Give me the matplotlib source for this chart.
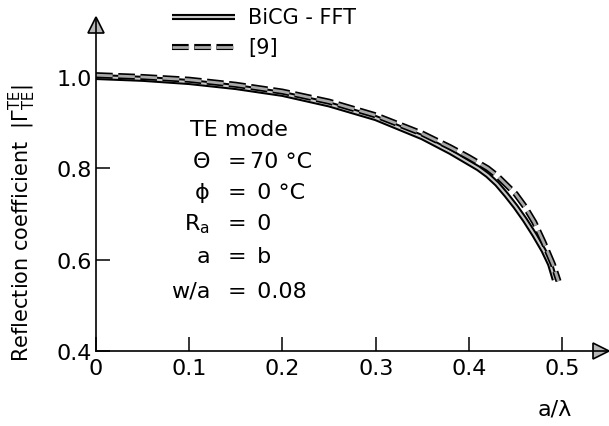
import matplotlib
matplotlib.use('Agg')
import matplotlib.pyplot as plt
import matplotlib.patheffects as pe
from matplotlib.lines import Line2D
from matplotlib import transforms

plt.rcParams['font.family'] = 'DejaVu Sans'
plt.rcParams['mathtext.default'] = 'regular'
plt.rcParams['lines.scale_dashes'] = False

# data
a_lambda = [0, 0.05, 0.1, 0.15, 0.2, 0.25, 0.3, 0.35, 0.38, 0.4, 0.41, 0.42,
            0.43, 0.44, 0.45, 0.46, 0.47, 0.48, 0.487, 0.492]
bicg_fft = [1.0, 0.996, 0.989, 0.978, 0.963, 0.940, 0.910, 0.868, 0.836,
            0.812, 0.800, 0.785, 0.766, 0.742, 0.716, 0.687, 0.655, 0.620,
            0.590, 0.556]

a_lambda_ref = [0, 0.05, 0.1, 0.15, 0.2, 0.25, 0.3, 0.35, 0.38, 0.4, 0.42,
                0.43, 0.44, 0.45, 0.46, 0.47, 0.48, 0.49, 0.496]
ref9 = [1.004, 1.0, 0.994, 0.983, 0.968, 0.946, 0.916, 0.876, 0.846, 0.824,
        0.800, 0.784, 0.764, 0.744, 0.716, 0.682, 0.638, 0.590, 0.553]

x_ticks = [0, 0.1, 0.2, 0.3, 0.4, 0.5]
x_ticklabels = ['0', '0.1', '0.2', '0.3', '0.4', '0.5']
y_ticks = [0.4, 0.6, 0.8, 1.0]
y_ticklabels = ['0.4', '0.6', '0.8', '1.0']

param_names = ['Θ', 'ϕ', 'R$_{\\rm a}$', 'a', 'w/a']
param_values = ['70 °C', ' 0 °C', ' 0', ' b', ' 0.08']

W, H = 609, 427


def fx(px):
    return px / W


def fy(py):
    return 1 - py / H


fig = plt.figure(figsize=(W / 100, H / 100), dpi=100)
ax = fig.add_axes([fx(96), fy(352), fx(607) - fx(96), fy(20) - fy(352)])

ax.set_xlim(0, 0.548)
ax.set_ylim(0.4, 1.127)

outline = [pe.Stroke(linewidth=4.4, foreground='black'), pe.Normal()]
ax.plot(a_lambda, bicg_fft, color='#c8c8c8', lw=1.5, path_effects=outline,
        solid_capstyle='butt', solid_joinstyle='round')
ax.plot(a_lambda_ref, ref9, color='#a8a8a8', lw=2.0, dashes=(12, 4),
        path_effects=outline, dash_capstyle='butt', dash_joinstyle='round')

# axes: only left and bottom, with arrow heads
for side in ('top', 'right'):
    ax.spines[side].set_visible(False)
for side in ('left', 'bottom'):
    ax.spines[side].set_linewidth(1.2)

ax.plot([0], [1.127], marker='^', ms=11, mfc='#b8b8b8', mec='black', mew=1.2,
        clip_on=False,
        transform=transforms.offset_copy(ax.transData, fig=fig, y=-6,
                                         units='dots'))
ax.plot([0.548], [0.4], marker='>', ms=11, mfc='#b8b8b8', mec='black',
        mew=1.2, clip_on=False,
        transform=transforms.offset_copy(ax.transData, fig=fig, x=-6,
                                         units='dots'))

ax.set_xticks(x_ticks)
ax.set_xticklabels(x_ticklabels)
ax.set_yticks(y_ticks)
ax.set_yticklabels(y_ticklabels)
ax.tick_params(direction='in', length=10, width=1.1, labelsize=16, pad=3)
ax.tick_params(axis='x', pad=5)

fig.text(fx(572), fy(410), 'a/λ', fontsize=16, ha='right', va='center')
fig.text(fx(22), fy(362),
         'Reflection coefficient  $|\\Gamma^{TE}_{TE}|$',
         rotation=90, fontsize=15, ha='center', va='bottom')

# parameter block
fig.text(fx(190), fy(130), 'TE mode', fontsize=16, ha='left', va='center')
row_y = [162, 193, 224, 257, 292]
for name, val, py in zip(param_names, param_values, row_y):
    fig.text(fx(210), fy(py), name, fontsize=16, ha='right', va='center')
    fig.text(fx(237), fy(py), '=', fontsize=16, ha='center', va='center')
    fig.text(fx(250), fy(py), val, fontsize=16, ha='left', va='center')

# legend
fig.add_artist(Line2D([fx(172), fx(235)], [fy(18), fy(18)], color='#c8c8c8',
                      lw=1.5, path_effects=outline, solid_capstyle='butt',
                      transform=fig.transFigure))
fig.add_artist(Line2D([fx(172), fx(235)], [fy(48), fy(48)], color='#a8a8a8',
                      lw=2.0, dashes=(12, 4), path_effects=outline,
                      dash_capstyle='butt', transform=fig.transFigure))
fig.text(fx(248), fy(18), 'BiCG - FFT', fontsize=15, ha='left', va='center')
fig.text(fx(248), fy(48), '[9]', fontsize=15, ha='left', va='center')

fig.savefig('out.png', dpi=100)
